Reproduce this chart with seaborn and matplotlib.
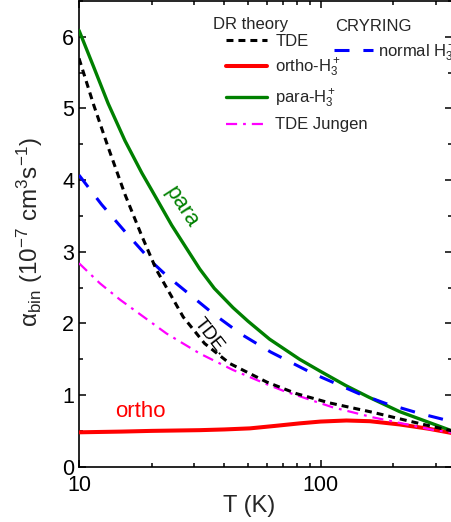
import matplotlib
matplotlib.use("Agg")
import matplotlib.pyplot as plt
from matplotlib.ticker import FixedLocator, NullFormatter, ScalarFormatter, MultipleLocator
import seaborn as sns

# Binary recombination rate coefficients of H3+ versus temperature
T_tde = [10, 11.5, 13.2, 15.5, 18.2, 20.9, 27, 33.1, 42.1, 60, 79.4, 109, 164, 224, 291, 350]
a_tde = [5.7, 5.05, 4.46, 3.80, 3.22, 2.75, 2.09, 1.72, 1.44, 1.18, 1.02, 0.89, 0.76, 0.65, 0.56, 0.50]

T_ortho = [10, 15, 20, 31.6, 40, 51, 65, 82, 100, 128, 160, 212, 280, 350]
a_ortho = [0.48, 0.49, 0.50, 0.51, 0.52, 0.535, 0.57, 0.605, 0.63, 0.645, 0.635, 0.59, 0.53, 0.47]

T_para = [10, 11.5, 13.2, 15.5, 18.2, 20, 24.2, 28.2, 31.6, 36.3, 43.4, 50.1,
          61.5, 81.8, 100, 127.6, 158.5, 212, 275, 350]
a_para = [6.09, 5.58, 5.07, 4.55, 4.10, 3.86, 3.37, 3.02, 2.76, 2.49, 2.22, 2.03,
          1.78, 1.50, 1.33, 1.13, 0.97, 0.77, 0.63, 0.50]

T_jungen = [10, 12.2, 14.8, 23, 31.6, 43.4, 60, 70, 112, 164, 291, 350]
a_jungen = [2.84, 2.56, 2.33, 1.86, 1.58, 1.35, 1.15, 1.06, 0.83, 0.69, 0.515, 0.475]

T_cry = [10, 12.4, 15.7, 20.3, 23, 35.8, 46.9, 62.2, 93, 144, 187, 256, 350]
a_cry = [4.07, 3.66, 3.26, 2.84, 2.67, 2.14, 1.85, 1.60, 1.30, 1.02, 0.88, 0.745, 0.63]

y_ticks = [0, 1, 2, 3, 4, 5, 6]
x_ticks = [10, 100]

sns.set_style("ticks")
plt.rcParams["font.family"] = ["Liberation Sans", "DejaVu Sans"]
plt.rcParams["mathtext.fontset"] = "custom"
plt.rcParams["mathtext.rm"] = "Liberation Sans"
plt.rcParams["mathtext.it"] = "Liberation Sans:italic"
plt.rcParams["mathtext.bf"] = "Liberation Sans:bold"
plt.rcParams["lines.scale_dashes"] = False

W, H = 451, 522
fig = plt.figure(figsize=(W / 100, H / 100), dpi=100)
ax = fig.add_axes([79 / W, 1 - 466.7 / H, (452 - 79) / W, (466.7 - 1) / H])

h3 = r"H$_3^+$"
sns.lineplot(x=T_tde, y=a_tde, ax=ax, color="black", lw=2.2,
             linestyle=(0, (5, 3.6)), label="TDE", zorder=4)
sns.lineplot(x=T_ortho, y=a_ortho, ax=ax, color="#ff0000", lw=2.9,
             label="ortho-" + h3, zorder=3)
sns.lineplot(x=T_para, y=a_para, ax=ax, color="#008000", lw=2.4,
             label="para-" + h3, zorder=3)
sns.lineplot(x=T_jungen, y=a_jungen, ax=ax, color="#ff00ff", lw=1.6,
             linestyle=(0, (8, 4.3, 2, 4.3)), label="TDE Jungen", zorder=3)
sns.lineplot(x=T_cry, y=a_cry, ax=ax, color="#0000ff", lw=2.2,
             linestyle=(0, (10.8, 10)), label="normal " + h3, zorder=3)

ax.set_xscale("log")
ax.set_xlim(10, 350)
ax.set_ylim(0, 6.5)
ax.xaxis.set_major_locator(FixedLocator(x_ticks))
ax.xaxis.set_major_formatter(ScalarFormatter())
ax.xaxis.set_minor_locator(FixedLocator([20, 30, 40, 50, 60, 70, 80, 90, 200, 300]))
ax.xaxis.set_minor_formatter(NullFormatter())
ax.yaxis.set_major_locator(FixedLocator(y_ticks))
ax.yaxis.set_minor_locator(MultipleLocator(0.5))

ax.tick_params(which="both", direction="in", top=True, right=True,
               labelsize=15.5, width=1.1, colors="black")
ax.tick_params(which="major", length=5)
ax.tick_params(which="minor", length=3)
ax.tick_params(axis="x", pad=6)
for s in ax.spines.values():
    s.set_linewidth(1.2)
    s.set_color("black")
    s.set_visible(True)

ax.set_xlabel("T (K)", fontsize=17)
ax.xaxis.set_label_coords((249.5 - 79) / (452 - 79), -(506 - 466.7) / (466.7 - 1))
ax.xaxis.label.set_va("center")
ax.set_ylabel(r"α$_{\rm bin}$ (10$^{-7}$ cm$^3$s$^{-1}$)", fontsize=17.5)
ax.yaxis.set_label_coords(-(79 - 30) / (452 - 79), (466.7 - 232) / (466.7 - 1))
ax.yaxis.label.set_va("center")

# curve labels
ax.text(18.0, 0.77, "ortho", color="#ff0000", fontsize=16, ha="center", va="center")
ax.text(26.6, 3.62, "para", color="#008000", fontsize=16, ha="center", va="center", rotation=-57)
ax.text(34.8, 1.81, "TDE.", color="black", fontsize=13.5, ha="center", va="center", rotation=-52)

# legends
handles, labels = ax.get_legend_handles_labels()
hmap = dict(zip(labels, handles))
px = lambda x, y: (x / W, 1 - y / H)
dr_labels = ["TDE", "ortho-" + h3, "para-" + h3, "TDE Jungen"]
leg1 = ax.legend([hmap[k] for k in dr_labels], dr_labels,
                 loc="upper left", bbox_to_anchor=px(226, 34), bbox_transform=fig.transFigure,
                 frameon=False, fontsize=12, borderpad=0, borderaxespad=0,
                 handlelength=2.45, handletextpad=0.5, labelspacing=0.47)
ax.add_artist(leg1)
ax.legend([hmap["normal " + h3]], ["normal " + h3],
          loc="upper left", bbox_to_anchor=px(334, 41), bbox_transform=fig.transFigure,
          frameon=False, fontsize=12, borderpad=0, borderaxespad=0,
          handlelength=2.35, handletextpad=0.3)

fig.text(*px(213, 28.5), "DR theory", fontsize=12, ha="left", va="baseline")
fig.text(*px(335, 31), "CRYRING", fontsize=12, ha="left", va="baseline")

fig.savefig("out.png", dpi=100)
